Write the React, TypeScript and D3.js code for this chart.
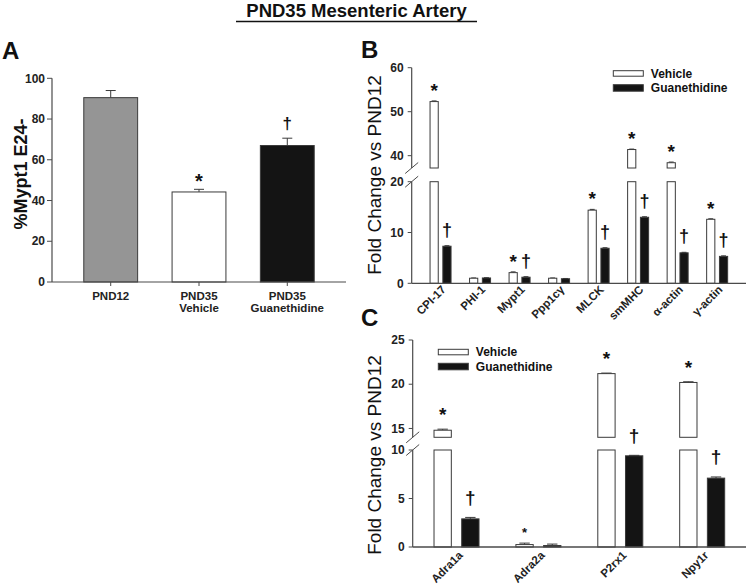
import React from "react";
import * as d3 from "d3";

const FONT = "'Liberation Sans', Arial, Helvetica, sans-serif";

// ---------- Panel A data ----------
const A_CATS = ["PND12", "PND35 Vehicle", "PND35 Guanethidine"];
const A_VALUES = [90.5, 44.2, 67.0];
const A_ERRORS = [3.5, 1.3, 3.6];
const A_MARKS = ["", "*", "†"];
const A_COLORS = ["#959595", "#ffffff", "#141414"];
const A_TICKS = [0, 20, 40, 60, 80, 100];

// ---------- Panel B data ----------
const B_CATS = ["CPI-17", "PHI-1", "Mypt1", "Ppp1c\u03b3", "MLCK", "smMHC", "\u03b1-actin", "\u03b3-actin"];
const B_VEHICLE = [52.3, 1.0, 2.1, 1.0, 14.4, 41.4, 38.4, 12.6];
const B_GUAN = [7.3, 1.05, 1.2, 0.9, 6.9, 13.0, 6.0, 5.3];
const B_VEH_ERR = [0.15, 0.05, 0.15, 0.05, 0.15, 0.1, 0.15, 0.1];
const B_GUAN_ERR = [0.1, 0.05, 0.1, 0.05, 0.1, 0.1, 0.1, 0.1];
const B_VEH_MARKS = ["*", "", "*", "", "*", "*", "*", "*"];
const B_GUAN_MARKS = ["†", "", "†", "", "†", "†", "†", "†"];
const B_TICKS_LOW = [0, 10, 20];
const B_TICKS_HIGH = [40, 50, 60];

// ---------- Panel C data ----------
const C_CATS = ["Adra1a", "Adra2a", "P2rx1", "Npy1r"];
const C_VEHICLE = [14.8, 0.25, 21.2, 20.2];
const C_GUAN = [2.9, 0.15, 9.4, 7.1];
const C_VEH_ERR = [0.12, 0.15, 0.06, 0.08];
const C_GUAN_ERR = [0.15, 0.15, 0.05, 0.12];
const C_VEH_MARKS = ["*", "*", "*", "*"];
const C_GUAN_MARKS = ["†", "", "†", "†"];
const C_TICKS_LOW = [0, 5, 10];
const C_TICKS_HIGH = [15, 20, 25];

const SERIES = ["Vehicle", "Guanethidine"];

const AXIS_COLOR = "#4a4a4a";
const BAR_STROKE = "#3a3a3a";
const BLACK = "#141414";
const TICK_FS = 12;

function Mark({ x, yTop, gap, ch, fs }: { x: number; yTop: number; gap: number; ch: string; fs: number }) {
  if (!ch) return null;
  const center = yTop - gap;
  const baseline = ch === "*" ? center + 0.58 * fs : center + 0.28 * fs;
  return (
    <text x={x} y={baseline} textAnchor="middle" fontFamily={FONT} fontWeight="bold" fontSize={fs} fill="#111">
      {ch}
    </text>
  );
}

function PanelA() {
  const y = d3.scaleLinear().domain([0, 100]).range([282, 78.3]);
  const x = d3.scaleBand().domain(A_CATS).range([52, 346]).paddingInner(0.39).paddingOuter(0.36);
  const bw = x.bandwidth();
  return (
    <g>
      <text x={2} y={59} fontFamily={FONT} fontWeight="bold" fontSize={24} fill="#111">A</text>
      <text
        transform={`translate(27,174) rotate(-90)`}
        textAnchor="middle"
        fontFamily={FONT}
        fontWeight="bold"
        fontSize={18}
        fill="#111"
      >
        %Mypt1 E24-
      </text>
      {A_CATS.map((c, i) => {
        const x0 = x(c)!;
        const top = y(A_VALUES[i]);
        const errTop = y(A_VALUES[i] + A_ERRORS[i]);
        const cx = x0 + bw / 2;
        return (
          <g key={c}>
            <line x1={cx} x2={cx} y1={top} y2={errTop} stroke={BAR_STROKE} strokeWidth={1} />
            <line x1={cx - 5} x2={cx + 5} y1={errTop} y2={errTop} stroke={BAR_STROKE} strokeWidth={1} />
            <rect x={x0} y={top} width={bw} height={y(0) - top} fill={A_COLORS[i]} stroke={BAR_STROKE} strokeWidth={1} />
            <Mark x={cx} yTop={errTop} gap={A_MARKS[i] === "*" ? 12.5 : 14} ch={A_MARKS[i]} fs={A_MARKS[i] === "*" ? 20 : 17} />
          </g>
        );
      })}
      {/* y axis */}
      <line x1={52} x2={52} y1={y(100)} y2={y(0)} stroke={AXIS_COLOR} strokeWidth={1.2} />
      {A_TICKS.map((t) => (
        <g key={t}>
          <line x1={47} x2={52} y1={y(t)} y2={y(t)} stroke={AXIS_COLOR} strokeWidth={1} />
          <text x={45} y={y(t) + 4.2} textAnchor="end" fontFamily={FONT} fontWeight="bold" fontSize={TICK_FS} fill="#222">
            {t}
          </text>
        </g>
      ))}
      {/* x axis */}
      <line x1={52} x2={346} y1={y(0)} y2={y(0)} stroke={AXIS_COLOR} strokeWidth={1.2} />
      {A_CATS.map((c) => {
        const cx = x(c)! + bw / 2;
        const lines = c.split(" ");
        return (
          <g key={c}>
            <line x1={cx} x2={cx} y1={y(0)} y2={y(0) + 4} stroke={AXIS_COLOR} strokeWidth={1} />
            {lines.map((l, k) => (
              <text key={k} x={cx} y={299.5 + k * 12} textAnchor="middle" fontFamily={FONT} fontWeight="bold" fontSize={11.5} fill="#222">
                {l}
              </text>
            ))}
          </g>
        );
      })}
    </g>
  );
}

type BrokenProps = {
  letter: string;
  letterY: number;
  cats: string[];
  veh: number[];
  guan: number[];
  vehErr: number[];
  guanErr: number[];
  vehMarks: string[];
  guanMarks: string[];
  axisX: number;
  xEnd: number;
  padOuter: number;
  subHalf: number;
  subPad: number;
  lowDomain: [number, number];
  lowRange: [number, number];
  highDomain: [number, number];
  highRange: [number, number];
  lowTicks: number[];
  highTicks: number[];
  markGap: number;
  starFs: number;
  daggerFs: number;
  smallStar?: number;
  labelDx: number;
  labelDy: number;
  legendX: number;
  legendY: number;
  yLabelCenter: number;
};

function BrokenPanel(p: BrokenProps) {
  const low = d3.scaleLinear().domain(p.lowDomain).range(p.lowRange);
  const high = d3.scaleLinear().domain(p.highDomain).range(p.highRange);
  const lowMax = p.lowDomain[1];
  const yAt = (v: number) => (v <= lowMax ? low(v) : high(v));
  const x = d3.scaleBand().domain(p.cats).range([p.axisX, p.xEnd]).paddingInner(0).paddingOuter(p.padOuter);
  const sub = d3.scaleBand().domain(SERIES).range([-p.subHalf, p.subHalf]).paddingInner(p.subPad);
  const sbw = sub.bandwidth();
  const y0 = low(0);

  const bar = (cx: number, s: string, v: number, err: number, mark: string, i: number) => {
    const bx = cx + sub(s)!;
    const fill = s === "Vehicle" ? "#ffffff" : BLACK;
    const rects: React.ReactNode[] = [];
    if (v <= lowMax) {
      rects.push(<rect key="l" x={bx} y={low(v)} width={sbw} height={y0 - low(v)} fill={fill} stroke={BAR_STROKE} strokeWidth={1} />);
    } else {
      rects.push(<rect key="l" x={bx} y={low(lowMax)} width={sbw} height={y0 - low(lowMax)} fill={fill} stroke={BAR_STROKE} strokeWidth={1} />);
      rects.push(
        <rect key="h" x={bx} y={high(v)} width={sbw} height={high(p.highDomain[0]) - high(v)} fill={fill} stroke={BAR_STROKE} strokeWidth={1} />
      );
    }
    const top = yAt(v);
    const eTop = yAt(v + err);
    const bcx = bx + sbw / 2;
    const isSmall = p.smallStar !== undefined && mark === "*" && v < 1;
    return (
      <g key={s + i}>
        <line x1={bcx} x2={bcx} y1={top} y2={eTop} stroke={BAR_STROKE} strokeWidth={1} />
        <line x1={bcx - sbw * 0.3} x2={bcx + sbw * 0.3} y1={eTop} y2={eTop} stroke={BAR_STROKE} strokeWidth={1} />
        {rects}
        <Mark
          x={bcx}
          yTop={eTop}
          gap={isSmall ? p.markGap * 0.7 : p.markGap}
          ch={mark}
          fs={mark === "*" ? (isSmall ? p.smallStar! : p.starFs) : p.daggerFs}
        />
      </g>
    );
  };

  const brk = [p.highRange[0], p.lowRange[1]];

  return (
    <g>
      <text x={361} y={p.letterY} fontFamily={FONT} fontWeight="bold" fontSize={24} fill="#111">
        {p.letter}
      </text>
      <text
        transform={`translate(381,${p.yLabelCenter}) rotate(-90)`}
        textAnchor="middle"
        fontFamily={FONT}
        fontSize={19}
        fill="#111"
      >
        Fold Change vs PND12
      </text>
      {p.cats.map((c, i) => {
        const cx = x(c)! + x.bandwidth() / 2;
        return (
          <g key={c}>
            {bar(cx, "Vehicle", p.veh[i], p.vehErr[i], p.vehMarks[i], i)}
            {bar(cx, "Guanethidine", p.guan[i], p.guanErr[i], p.guanMarks[i], i)}
            <text
              transform={`translate(${cx + p.labelDx},${y0 + p.labelDy}) rotate(-45)`}
              textAnchor="end"
              fontFamily={FONT}
              fontWeight="bold"
              fontSize={11.5}
              fill="#222"
            >
              {c}
            </text>
          </g>
        );
      })}
      {/* y axis segments */}
      <line x1={p.axisX} x2={p.axisX} y1={p.highRange[1]} y2={p.highRange[0]} stroke={AXIS_COLOR} strokeWidth={1.2} />
      <line x1={p.axisX} x2={p.axisX} y1={p.lowRange[1]} y2={p.lowRange[0]} stroke={AXIS_COLOR} strokeWidth={1.2} />
      {brk.map((by, k) => (
        <line key={k} x1={p.axisX - 6.5} x2={p.axisX + 6.5} y1={by + 5.5} y2={by - 5.5} stroke={AXIS_COLOR} strokeWidth={1} />
      ))}
      {p.lowTicks.map((t) => (
        <g key={"l" + t}>
          <line x1={p.axisX - 4} x2={p.axisX} y1={low(t)} y2={low(t)} stroke={AXIS_COLOR} strokeWidth={1} />
          <text x={p.axisX - 8} y={low(t) + 4.2} textAnchor="end" fontFamily={FONT} fontWeight="bold" fontSize={TICK_FS} fill="#222">
            {t}
          </text>
        </g>
      ))}
      {p.highTicks.map((t) => (
        <g key={"h" + t}>
          <line x1={p.axisX - 4} x2={p.axisX} y1={high(t)} y2={high(t)} stroke={AXIS_COLOR} strokeWidth={1} />
          <text x={p.axisX - 8} y={high(t) + 4.2} textAnchor="end" fontFamily={FONT} fontWeight="bold" fontSize={TICK_FS} fill="#222">
            {t}
          </text>
        </g>
      ))}
      {/* x axis */}
      <line x1={p.axisX} x2={p.xEnd} y1={y0} y2={y0} stroke={AXIS_COLOR} strokeWidth={1.3} />
      {/* legend */}
      {SERIES.map((s, k) => (
        <g key={s}>
          <rect
            x={p.legendX}
            y={p.legendY + k * 14.5 - (k === 0 ? 0 : 0.5)}
            width={30}
            height={k === 0 ? 5.5 : 6.5}
            fill={k === 0 ? "#ffffff" : BLACK}
            stroke={BAR_STROKE}
            strokeWidth={1}
          />
          <text x={p.legendX + 37.5} y={p.legendY + 7 + k * 14.5} fontFamily={FONT} fontWeight="bold" fontSize={12} fill="#111">
            {s}
          </text>
        </g>
      ))}
    </g>
  );
}

export default function App() {
  return (
    <svg
      width={747}
      height={588}
      viewBox="0 0 747 588"
      style={{ position: "absolute", left: 0, top: 0, display: "block", background: "#ffffff" }}
    >
      <rect x={0} y={0} width={747} height={588} fill="#ffffff" />
      <text x={356.5} y={16.7} textAnchor="middle" fontFamily={FONT} fontWeight="bold" fontSize={18.5} fill="#111">
        PND35 Mesenteric Artery
      </text>
      <line x1={236} x2={477} y1={21.5} y2={21.5} stroke="#111" strokeWidth={1.6} />
      <PanelA />
      <BrokenPanel
        letter="B"
        letterY={58}
        cats={B_CATS}
        veh={B_VEHICLE}
        guan={B_GUAN}
        vehErr={B_VEH_ERR}
        guanErr={B_GUAN_ERR}
        vehMarks={B_VEH_MARKS}
        guanMarks={B_GUAN_MARKS}
        axisX={411.7}
        xEnd={746}
        padOuter={0.23}
        subHalf={10.5}
        subPad={0.36}
        lowDomain={[0, 20]}
        lowRange={[283.3, 181.7]}
        highDomain={[37.2, 60]}
        highRange={[168, 67.7]}
        lowTicks={B_TICKS_LOW}
        highTicks={B_TICKS_HIGH}
        markGap={15}
        starFs={19}
        daggerFs={18}
        labelDx={6}
        labelDy={7}
        legendX={613.3}
        legendY={70.7}
        yLabelCenter={175}
      />
      <BrokenPanel
        letter="C"
        letterY={326}
        cats={C_CATS}
        veh={C_VEHICLE}
        guan={C_GUAN}
        vehErr={C_VEH_ERR}
        guanErr={C_GUAN_ERR}
        vehMarks={C_VEH_MARKS}
        guanMarks={C_GUAN_MARKS}
        axisX={412.7}
        xEnd={746}
        padOuter={0.035}
        subHalf={22.5}
        subPad={0.375}
        lowDomain={[0, 10]}
        lowRange={[547, 450]}
        highDomain={[14.0, 25]}
        highRange={[437.3, 340]}
        lowTicks={C_TICKS_LOW}
        highTicks={C_TICKS_HIGH}
        markGap={19}
        starFs={19}
        daggerFs={19}
        smallStar={13}
        labelDx={7}
        labelDy={9}
        legendX={438.3}
        legendY={349.3}
        yLabelCenter={455}
      />
    </svg>
  );
}
